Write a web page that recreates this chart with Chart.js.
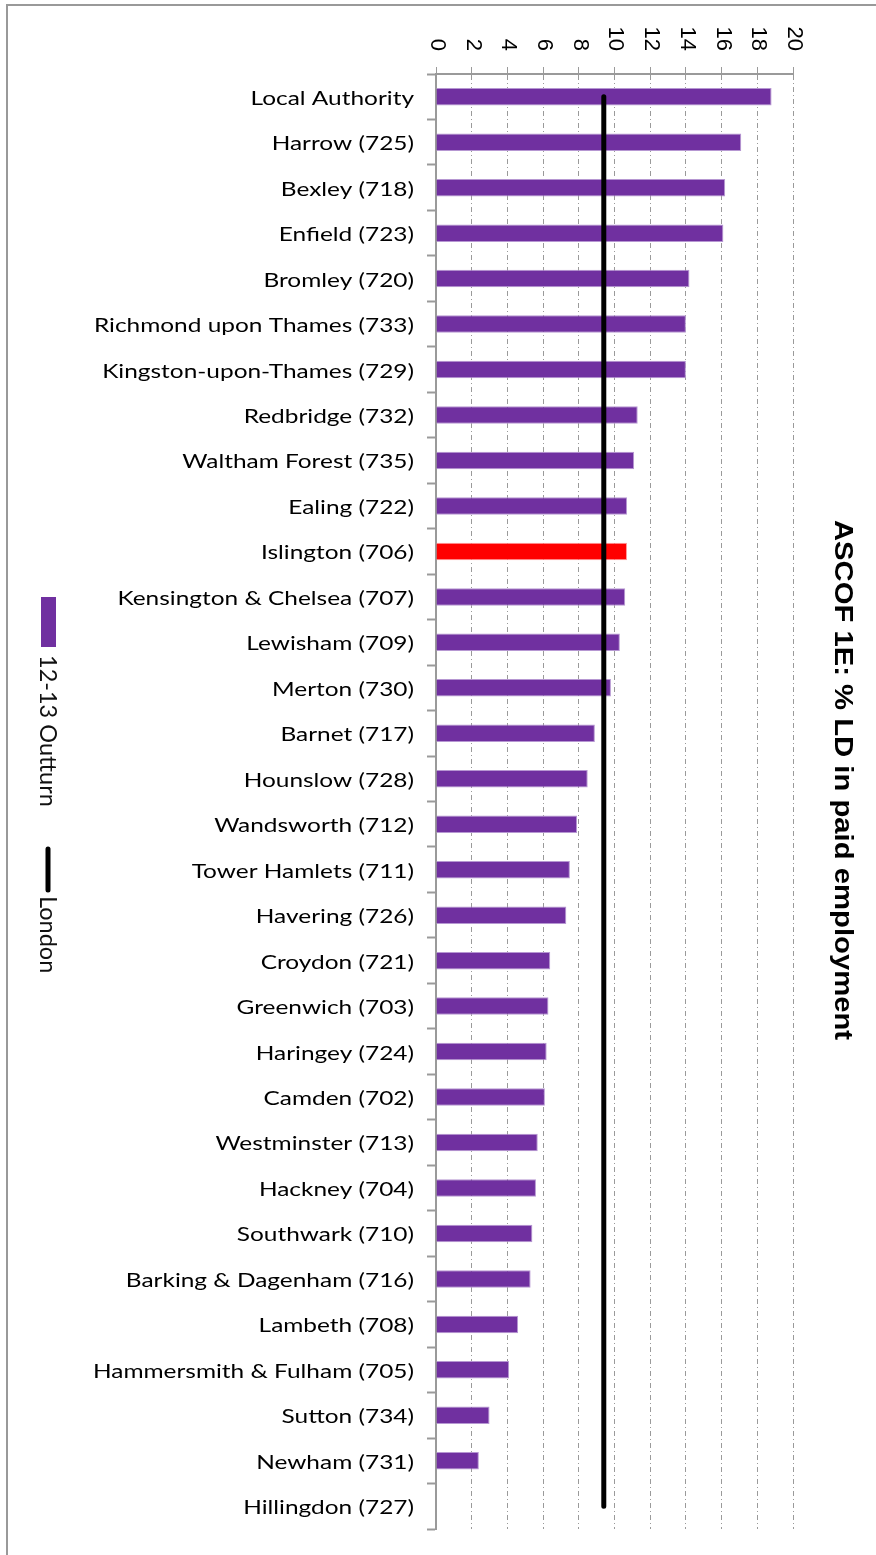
<!DOCTYPE html>
<html>
<head>
<meta charset="utf-8">
<script src="https://cdn.jsdelivr.net/npm/chart.js@4.4.1/dist/chart.umd.min.js"></script>
<style>
  html, body { margin: 0; padding: 0; background: #fff; }
  #wrap { width: 876px; height: 1555px; }
</style>
</head>
<body>
<div id="wrap"><canvas id="ascof" width="876" height="1555"></canvas></div>
<script>
// ---- Daten ----
const boroughs = [
  "Local Authority", "Harrow (725)", "Bexley (718)", "Enfield (723)", "Bromley (720)",
  "Richmond upon Thames (733)", "Kingston-upon-Thames (729)", "Redbridge (732)",
  "Waltham Forest (735)", "Ealing (722)", "Islington (706)", "Kensington & Chelsea (707)",
  "Lewisham (709)", "Merton (730)", "Barnet (717)", "Hounslow (728)", "Wandsworth (712)",
  "Tower Hamlets (711)", "Havering (726)", "Croydon (721)", "Greenwich (703)",
  "Haringey (724)", "Camden (702)", "Westminster (713)", "Hackney (704)",
  "Southwark (710)", "Barking & Dagenham (716)", "Lambeth (708)",
  "Hammersmith & Fulham (705)", "Sutton (734)", "Newham (731)", "Hillingdon (727)"
];
const outturn = [
  18.8, 17.1, 16.2, 16.1, 14.2, 14.0, 14.0, 11.3, 11.1, 10.7, 10.7, 10.6,
  10.3, 9.8, 8.9, 8.5, 7.9, 7.5, 7.3, 6.4, 6.3, 6.2, 6.1, 5.7, 5.6,
  5.4, 5.3, 4.6, 4.1, 3.0, 2.4, null
];
const londonAvg = 9.4;                 // London-Durchschnitt (Linie)
const xTicks = [0, 2, 4, 6, 8, 10, 12, 14, 16, 18, 20];
const highlight = "Islington (706)";
const titleText = "ASCOF 1E: % LD in paid employment";
const legendItems = ["12-13 Outturn", "London"];

const PURPLE = "#7030A0";
const RED    = "#FF0000";
const GRID   = "#9a9a9a";

// ---- Deko-Plugin: Rahmen, gedrehte Texte, Legende ----
const decor = {
  id: "decor",
  beforeDraw(chart) {
    const ctx = chart.ctx;
    ctx.save();
    ctx.strokeStyle = "#999";
    ctx.lineWidth = 2;
    ctx.beginPath();
    ctx.moveTo(7, 1555); ctx.lineTo(7, 5); ctx.lineTo(876, 5);
    ctx.stroke();
    ctx.restore();
  },
  afterDraw(chart) {
    const ctx = chart.ctx;
    const xs = chart.scales.x, ys = chart.scales.y;

    // x-Achse: Zahlen im Uhrzeigersinn gedreht
    ctx.save();
    ctx.fillStyle = "#000";
    ctx.font = '22px "Liberation Sans", Arial, sans-serif';
    ctx.textAlign = "right";
    ctx.textBaseline = "middle";
    xs.ticks.forEach(t => {
      const px = xs.getPixelForValue(t.value);
      ctx.save();
      ctx.translate(px + 1, 51);
      ctx.rotate(Math.PI / 2);
      ctx.fillText(String(t.value), 0, 0);
      ctx.restore();
    });
    ctx.restore();

    // y-Achse: Kategorien (etwas breit gezogen wie im Original)
    ctx.save();
    ctx.fillStyle = "#000";
    ctx.font = '18.5px Lato, "Open Sans", sans-serif';
    ctx.textAlign = "right";
    ctx.textBaseline = "middle";
    boroughs.forEach((b, i) => {
      const py = ys.getPixelForTick(i);
      ctx.save();
      ctx.translate(414, py + 2);
      ctx.scale(1.32, 1);
      ctx.fillText(b, 0, 0);
      ctx.restore();
    });
    ctx.restore();

    // Titel rechts
    ctx.save();
    ctx.fillStyle = "#000";
    ctx.font = 'bold 25px "Liberation Sans", Arial, sans-serif';
    ctx.textAlign = "center";
    ctx.textBaseline = "middle";
    ctx.translate(842, 780);
    ctx.rotate(Math.PI / 2);
    ctx.scale(1.17, 1);
    ctx.fillText(titleText, 0, 0);
    ctx.restore();

    // Legende links
    ctx.save();
    ctx.fillStyle = PURPLE;
    ctx.fillRect(41, 597, 15, 50);
    ctx.strokeStyle = "#000";
    ctx.lineWidth = 5;
    ctx.lineCap = "round";
    ctx.beginPath(); ctx.moveTo(48, 849); ctx.lineTo(48, 890); ctx.stroke();
    ctx.fillStyle = "#111";
    ctx.font = '23.5px Lato, "Open Sans", sans-serif';
    ctx.textAlign = "left";
    ctx.textBaseline = "middle";
    [[legendItems[0], 655], [legendItems[1], 896]].forEach(([txt, y0]) => {
      ctx.save();
      ctx.translate(48, y0);
      ctx.rotate(Math.PI / 2);
      ctx.fillText(txt, 0, 0);
      ctx.restore();
    });
    ctx.restore();
  }
};

// ---- Chart ----
new Chart(document.getElementById("ascof").getContext("2d"), {
  data: {
    labels: boroughs,
    datasets: [
      {
        type: "line",
        label: "London",
        indexAxis: "y",
        data: boroughs.map(() => londonAvg),
        borderColor: "#000",
        borderWidth: 5,
        borderCapStyle: "round",
        pointRadius: 0,
        fill: false,
        tension: 0,
        order: 0
      },
      {
        type: "bar",
        label: "12-13 Outturn",
        indexAxis: "y",
        data: outturn,
        backgroundColor: boroughs.map(b => b === highlight ? RED : PURPLE),
        borderColor: boroughs.map(b => b === highlight ? "#ff9a9a" : "#b697d2"),
        borderWidth: 1,
        categoryPercentage: 1,
        barPercentage: 0.385,
        order: 1
      }
    ]
  },
  options: {
    indexAxis: "y",
    responsive: false,
    animation: false,
    devicePixelRatio: 1,
    layout: { padding: { left: 0, top: 0, right: 83, bottom: 26 } },
    plugins: { legend: { display: false }, title: { display: false }, tooltip: { enabled: false } },
    scales: {
      x: {
        position: "top",
        min: 0, max: 20,
        afterBuildTicks: (s) => { s.ticks = xTicks.map(v => ({ value: v })); },
        ticks: { display: false },
        grid: {
          color: (c) => (c.tick && c.tick.value === 0) ? "rgba(0,0,0,0)" : GRID,
          lineWidth: 1,
          tickColor: GRID,
          tickLength: 7,
          tickBorderDash: []
        },
        border: { display: true, color: GRID, width: 2, dash: [5, 3, 1, 3] },
        afterFit: (s) => { s.height = 74; }
      },
      y: {
        type: "category",
        offset: true,
        ticks: { display: false },
        grid: {
          offset: true,
          drawOnChartArea: false,
          drawTicks: true,
          tickLength: 9,
          tickColor: GRID,
          tickWidth: 2
        },
        border: { display: true, color: GRID, width: 2 },
        afterFit: (s) => { s.width = 436; }
      }
    }
  },
  plugins: [decor]
});
</script>
</body>
</html>
